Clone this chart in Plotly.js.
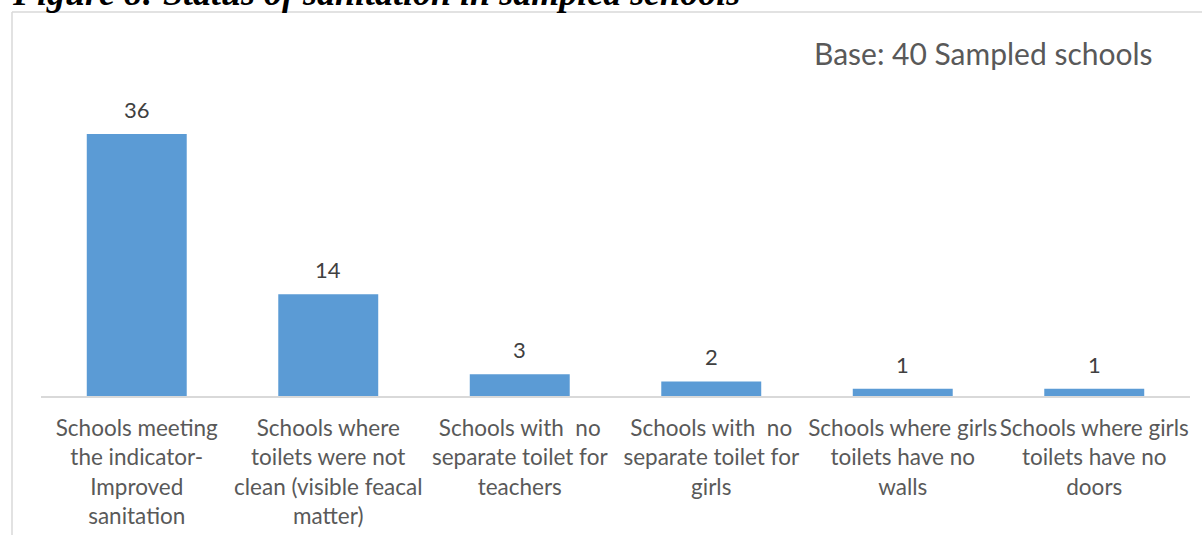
<!DOCTYPE html>
<html>
<head>
<meta charset="utf-8">
<script src="https://cdn.plot.ly/plotly-3.0.1.min.js"></script>
<style>
  html, body { margin: 0; padding: 0; background: #ffffff; }
  #chart { width: 1202px; height: 535px; }
</style>
</head>
<body>
<div id="chart"></div>
<script>
// ---- data ----
var categories = [
  "Schools meeting the indicator-Improved sanitation",
  "Schools where toilets were not clean (visible feacal matter)",
  "Schools with no separate toilet for teachers",
  "Schools with no separate toilet for girls",
  "Schools where girls toilets have no walls",
  "Schools where girls toilets have no doors"
];
var tickLabels = [
  "Schools meeting<br>the indicator-<br>Improved<br>sanitation",
  "Schools where<br>toilets were not<br>clean (visible feacal<br>matter)",
  "Schools with\u00a0 no<br>separate toilet for<br>teachers",
  "Schools with\u00a0 no<br>separate toilet for<br>girls",
  "Schools where girls<br>toilets have no<br>walls",
  "Schools where girls<br>toilets have no<br>doors"
];
var values = [36, 14, 3, 2, 1, 1];
var titleText = "Figure 8: Status of sanitation in sampled schools";
var baseText = "Base: 40 Sampled schools";

// ---- layout geometry (pixels) ----
var W = 1202, H = 535;
var L = 41, R = 1190, T = 105, B = 396;
function px(x) { return (x - L) / (R - L); }
function py(y) { return (B - y) / (B - T); }

var trace = {
  type: "bar",
  x: categories,
  y: values,
  marker: { color: "#5b9bd5" },
  hoverinfo: "x+y"
};

var annotations = values.map(function (v, i) {
  return {
    x: categories[i], y: v, xref: "x", yref: "y",
    text: String(v), showarrow: false,
    xanchor: "center", yanchor: "bottom", yshift: 9,
    font: { family: "Lato, sans-serif", size: 22, color: "#404040" }
  };
});
annotations.push({
  x: px(983), y: py(53), xref: "paper", yref: "paper",
  text: baseText, showarrow: false,
  xanchor: "center", yanchor: "middle",
  font: { family: "Lato, sans-serif", size: 30, color: "#595959" }
});
annotations.push({
  x: px(10), y: py(-7), xref: "paper", yref: "paper",
  text: "<b><i>" + titleText + "</i></b>", showarrow: false,
  xanchor: "left", yanchor: "middle",
  font: { family: "Liberation Serif, serif", size: 36, color: "#000000" }
});

var lineStyle = { color: "#d9d9d9", width: 1.5 };
var shapes = [
  { type: "line", xref: "paper", yref: "paper", x0: px(12), x1: px(12), y0: py(12), y1: py(540), line: lineStyle },
  { type: "line", xref: "paper", yref: "paper", x0: px(12), x1: px(1210), y0: py(12), y1: py(12), line: lineStyle }
];

var layout = {
  width: W, height: H,
  margin: { l: L, r: W - R, t: T, b: H - B, pad: 0 },
  paper_bgcolor: "#ffffff",
  plot_bgcolor: "#ffffff",
  showlegend: false,
  bargap: 0.478,
  xaxis: {
    type: "category",
    tickvals: categories,
    ticktext: tickLabels,
    showline: true, linecolor: "#d9d9d9", linewidth: 2,
    showgrid: false, zeroline: false, ticks: "",
    tickangle: 0,
    ticklabelstandoff: 11,
    tickfont: { family: "Lato, sans-serif", size: 22.5, color: "#595959" },
    fixedrange: true
  },
  yaxis: {
    range: [0, 40],
    visible: false,
    showgrid: false, zeroline: false,
    fixedrange: true
  },
  annotations: annotations,
  shapes: shapes
};

Plotly.newPlot("chart", [trace], layout, { displayModeBar: false, staticPlot: true });
</script>
</body>
</html>
